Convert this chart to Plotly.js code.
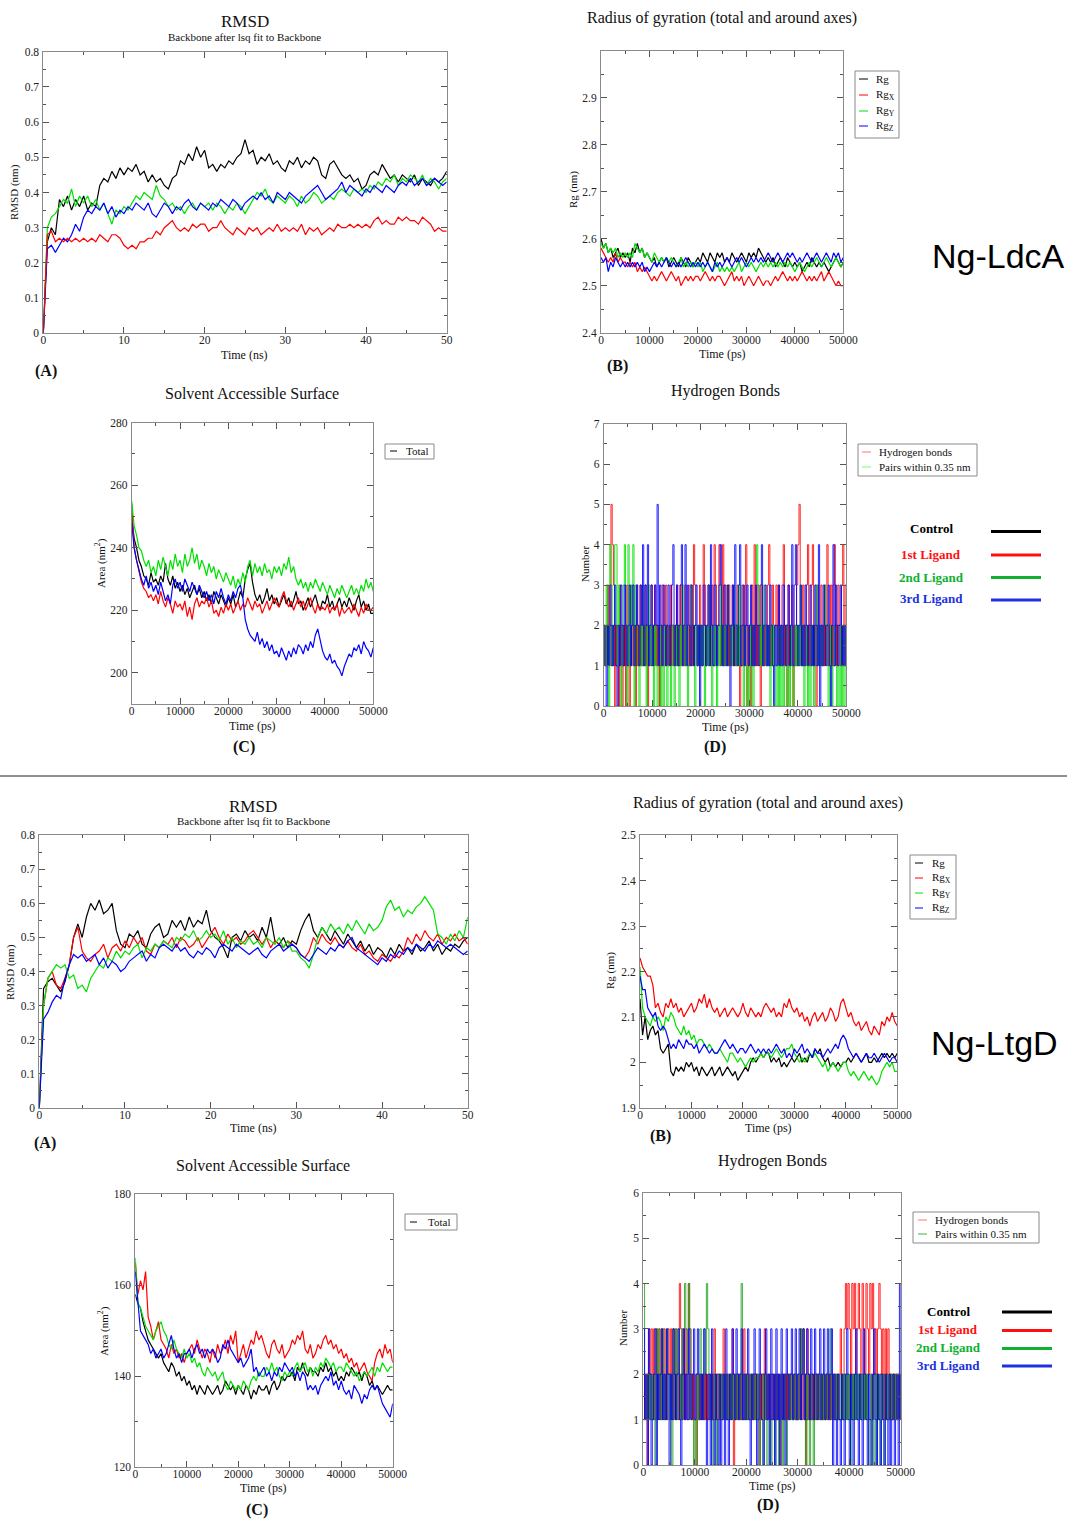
<!DOCTYPE html>
<html><head><meta charset="utf-8">
<script src="https://cdn.plot.ly/plotly-3.0.1.min.js"></script>
<style>body{margin:0;background:#fff}#chart{width:1067px;height:1520px}</style>
</head><body><div id="chart"></div>
<script>
// ---------- time axes ----------
const time_ns = [0,0.5,1,1.5,2,2.5,3,3.5,4,4.5,5,5.5,6,6.5,7,7.5,8,8.5,9,9.5,
10,10.5,11,11.5,12,12.5,13,13.5,14,14.5,15,15.5,16,16.5,17,17.5,18,18.5,19,19.5,
20,20.5,21,21.5,22,22.5,23,23.5,24,24.5,25,25.5,26,26.5,27,27.5,28,28.5,29,29.5,
30,30.5,31,31.5,32,32.5,33,33.5,34,34.5,35,35.5,36,36.5,37,37.5,38,38.5,39,39.5,
40,40.5,41,41.5,42,42.5,43,43.5,44,44.5,45,45.5,46,46.5,47,47.5,48,48.5,49,49.5,50];
const time_ps = [0,500,1000,1500,2000,2500,3000,3500,4000,4500,5000,5500,6000,6500,7000,7500,8000,8500,9000,9500,
10000,10500,11000,11500,12000,12500,13000,13500,14000,14500,15000,15500,16000,16500,17000,17500,18000,18500,19000,19500,
20000,20500,21000,21500,22000,22500,23000,23500,24000,24500,25000,25500,26000,26500,27000,27500,28000,28500,29000,29500,
30000,30500,31000,31500,32000,32500,33000,33500,34000,34500,35000,35500,36000,36500,37000,37500,38000,38500,39000,39500,
40000,40500,41000,41500,42000,42500,43000,43500,44000,44500,45000,45500,46000,46500,47000,47500,48000,48500,49000,49500,50000];
const time_hb = [0,250,500,750,1000,1250,1500,1750,2000,2250,2500,2750,3000,3250,3500,3750,4000,4250,4500,4750,
5000,5250,5500,5750,6000,6250,6500,6750,7000,7250,7500,7750,8000,8250,8500,8750,9000,9250,9500,9750,
10000,10250,10500,10750,11000,11250,11500,11750,12000,12250,12500,12750,13000,13250,13500,13750,14000,14250,14500,14750,
15000,15250,15500,15750,16000,16250,16500,16750,17000,17250,17500,17750,18000,18250,18500,18750,19000,19250,19500,19750,
20000,20250,20500,20750,21000,21250,21500,21750,22000,22250,22500,22750,23000,23250,23500,23750,24000,24250,24500,24750,
25000,25250,25500,25750,26000,26250,26500,26750,27000,27250,27500,27750,28000,28250,28500,28750,29000,29250,29500,29750,
30000,30250,30500,30750,31000,31250,31500,31750,32000,32250,32500,32750,33000,33250,33500,33750,34000,34250,34500,34750,
35000,35250,35500,35750,36000,36250,36500,36750,37000,37250,37500,37750,38000,38250,38500,38750,39000,39250,39500,39750,
40000,40250,40500,40750,41000,41250,41500,41750,42000,42250,42500,42750,43000,43250,43500,43750,44000,44250,44500,44750,
45000,45250,45500,45750,46000,46250,46500,46750,47000,47250,47500,47750,48000,48250,48500,48750,49000,49250,49500,49750,50000];

const series_names = ["Control","1st Ligand","2nd Ligand","3rd Ligand"];

// ---------- Ng-LdcA : RMSD (nm) ----------
const ldca_rmsd_control = [0.00,0.26,0.30,0.28,0.38,0.36,0.39,0.35,0.38,0.36,
0.39,0.35,0.37,0.36,0.42,0.44,0.43,0.46,0.44,0.47, 0.45,0.47,0.46,0.48,0.45,0.46,0.43,0.45,0.43,0.44,
0.42,0.41,0.44,0.45,0.49,0.48,0.51,0.49,0.53,0.50, 0.52,0.47,0.48,0.46,0.48,0.47,0.49,0.48,0.50,0.51,
0.55,0.51,0.52,0.48,0.50,0.49,0.51,0.48,0.49,0.47, 0.46,0.49,0.48,0.50,0.47,0.49,0.48,0.50,0.49,0.45,
0.44,0.48,0.49,0.47,0.45,0.44,0.45,0.43,0.44,0.41, 0.42,0.45,0.46,0.45,0.48,0.46,0.44,0.45,0.43,0.45,
0.44,0.43,0.45,0.42,0.44,0.43,0.42,0.44,0.43,0.44, 0.46];
const ldca_rmsd_lig1 = [0.00,0.28,0.29,0.26,0.27,0.26,0.27,0.26,0.27,0.26,
0.27,0.26,0.27,0.26,0.28,0.27,0.26,0.28,0.28,0.27, 0.25,0.24,0.25,0.24,0.26,0.26,0.27,0.27,0.29,0.28,
0.30,0.31,0.32,0.30,0.29,0.30,0.29,0.31,0.30,0.31, 0.31,0.29,0.30,0.30,0.32,0.30,0.29,0.28,0.30,0.29,
0.28,0.30,0.29,0.30,0.28,0.29,0.30,0.29,0.31,0.29, 0.30,0.29,0.30,0.29,0.31,0.28,0.30,0.29,0.30,0.28,
0.29,0.30,0.29,0.31,0.30,0.30,0.31,0.30,0.31,0.30, 0.31,0.30,0.32,0.33,0.31,0.32,0.31,0.31,0.33,0.32,
0.33,0.32,0.32,0.31,0.33,0.32,0.31,0.29,0.30,0.29, 0.29];
const ldca_rmsd_lig2 = [0.00,0.30,0.33,0.34,0.36,0.38,0.37,0.41,0.36,0.39,
0.37,0.39,0.36,0.38,0.35,0.37,0.34,0.31,0.35,0.34, 0.36,0.35,0.37,0.39,0.38,0.40,0.39,0.38,0.42,0.39,
0.38,0.36,0.37,0.35,0.36,0.34,0.36,0.37,0.35,0.37, 0.36,0.37,0.35,0.37,0.36,0.34,0.36,0.35,0.37,0.36,
0.34,0.36,0.38,0.40,0.39,0.41,0.38,0.37,0.39,0.38, 0.37,0.39,0.38,0.36,0.39,0.37,0.38,0.40,0.39,0.37,
0.38,0.39,0.38,0.40,0.41,0.40,0.39,0.41,0.40,0.41, 0.40,0.42,0.41,0.43,0.42,0.44,0.43,0.45,0.42,0.44,
0.43,0.45,0.44,0.43,0.45,0.42,0.44,0.43,0.41,0.43, 0.44];
const ldca_rmsd_lig3 = [0.00,0.24,0.25,0.23,0.25,0.27,0.26,0.28,0.31,0.29,
0.33,0.35,0.34,0.36,0.35,0.37,0.34,0.36,0.33,0.35, 0.34,0.36,0.35,0.37,0.36,0.35,0.37,0.34,0.33,0.35,
0.37,0.36,0.34,0.36,0.35,0.37,0.38,0.36,0.35,0.37, 0.36,0.35,0.37,0.36,0.38,0.37,0.36,0.38,0.37,0.35,
0.37,0.38,0.39,0.38,0.40,0.38,0.39,0.37,0.40,0.39, 0.38,0.40,0.39,0.38,0.37,0.39,0.40,0.41,0.42,0.40,
0.38,0.39,0.40,0.41,0.43,0.40,0.42,0.41,0.40,0.39, 0.41,0.40,0.42,0.41,0.40,0.42,0.41,0.40,0.42,0.43,
0.42,0.44,0.42,0.43,0.44,0.42,0.43,0.44,0.43,0.42, 0.43];

// ---------- Ng-LdcA : Rg (nm) ----------
const ldca_rg_control = [2.60,2.58,2.59,2.57,2.58,2.56,2.57,2.58,2.56,2.57,
2.56,2.57,2.55,2.58,2.57,2.59,2.57,2.58,2.56,2.57, 2.56,2.55,2.56,2.54,2.55,2.56,2.55,2.56,2.54,2.55,
2.56,2.55,2.54,2.56,2.55,2.54,2.56,2.55,2.54,2.55, 2.56,2.55,2.57,2.56,2.55,2.57,2.56,2.55,2.57,2.56,
2.57,2.55,2.56,2.55,2.57,2.56,2.55,2.56,2.57,2.56, 2.55,2.57,2.56,2.57,2.56,2.58,2.57,2.56,2.55,2.56,
2.55,2.56,2.54,2.55,2.56,2.55,2.54,2.56,2.55,2.54, 2.55,2.54,2.55,2.53,2.54,2.55,2.54,2.56,2.55,2.54,
2.55,2.54,2.55,2.54,2.53,2.54,2.55,2.56,2.55,2.54, 2.55];
const ldca_rg_x = [2.58,2.57,2.56,2.55,2.56,2.55,2.57,2.55,2.56,2.55,
2.55,2.54,2.55,2.54,2.55,2.53,2.54,2.53,2.54,2.53, 2.52,2.51,2.52,2.51,2.52,2.53,2.52,2.51,2.52,2.53,
2.52,2.51,2.52,2.50,2.51,2.52,2.51,2.52,2.51,2.52, 2.52,2.51,2.52,2.53,2.52,2.51,2.52,2.51,2.52,2.52,
2.51,2.50,2.51,2.52,2.53,2.51,2.52,2.51,2.52,2.50, 2.51,2.52,2.51,2.50,2.51,2.52,2.51,2.50,2.51,2.51,
2.50,2.51,2.52,2.51,2.52,2.53,2.52,2.51,2.52,2.51, 2.52,2.51,2.52,2.53,2.52,2.51,2.52,2.51,2.52,2.51,
2.52,2.53,2.51,2.52,2.53,2.52,2.51,2.50,2.51,2.50, 2.50];
const ldca_rg_y = [2.59,2.58,2.59,2.57,2.58,2.57,2.58,2.56,2.57,2.56,
2.57,2.56,2.57,2.56,2.59,2.58,2.57,2.58,2.56,2.57, 2.56,2.55,2.57,2.56,2.55,2.56,2.55,2.56,2.55,2.56,
2.55,2.54,2.55,2.56,2.54,2.55,2.54,2.55,2.54,2.55, 2.54,2.55,2.53,2.54,2.55,2.54,2.53,2.54,2.55,2.53,
2.54,2.53,2.54,2.53,2.54,2.53,2.54,2.55,2.53,2.54, 2.55,2.54,2.55,2.54,2.53,2.54,2.55,2.54,2.55,2.54,
2.55,2.54,2.55,2.54,2.55,2.54,2.55,2.54,2.55,2.54, 2.53,2.54,2.55,2.54,2.53,2.54,2.55,2.54,2.55,2.56,
2.55,2.54,2.55,2.56,2.55,2.54,2.55,2.56,2.55,2.54, 2.55];
const ldca_rg_z = [2.56,2.55,2.56,2.53,2.55,2.54,2.56,2.55,2.54,2.55,
2.54,2.55,2.54,2.55,2.54,2.55,2.54,2.55,2.53,2.54, 2.53,2.54,2.55,2.54,2.55,2.54,2.55,2.56,2.55,2.54,
2.55,2.54,2.55,2.54,2.55,2.56,2.55,2.54,2.55,2.54, 2.55,2.54,2.55,2.54,2.55,2.54,2.53,2.55,2.54,2.55,
2.54,2.55,2.56,2.55,2.54,2.55,2.56,2.55,2.56,2.55, 2.54,2.55,2.56,2.55,2.56,2.55,2.56,2.55,2.56,2.57,
2.56,2.55,2.56,2.57,2.56,2.55,2.56,2.57,2.56,2.57, 2.56,2.55,2.56,2.55,2.56,2.57,2.56,2.55,2.56,2.57,
2.56,2.55,2.56,2.57,2.56,2.55,2.57,2.56,2.57,2.55, 2.56];

// ---------- Ng-LdcA : SAS area (nm^2) ----------
const ldca_sas_control = [250,243,240,236,234,231,230,228,232,229,
230,228,231,229,235,230,228,231,227,229, 226,228,225,227,224,226,228,225,227,224,
226,223,225,222,226,224,222,225,223,221, 224,222,225,221,223,226,224,230,233,235,
229,225,223,225,222,224,227,223,225,222, 224,221,223,225,222,224,221,223,226,222,
223,220,222,224,221,223,225,222,220,223, 222,225,221,223,220,222,224,221,223,221,
224,222,220,223,225,221,223,220,222,219, 219];
const ldca_sas_lig1 = [254,240,236,232,229,227,226,224,225,223,
225,222,226,223,221,224,222,219,223,221, 222,220,223,218,221,217,222,224,221,223,
222,224,221,223,219,220,218,221,219,222, 220,222,219,221,223,220,222,221,224,222,
220,223,221,222,219,221,223,220,222,224, 222,221,224,226,223,221,223,220,222,224,
221,223,220,222,224,221,219,222,220,221, 220,222,219,221,220,222,218,221,219,220,
221,219,222,220,218,221,219,222,220,220, 221];
const ldca_sas_lig2 = [255,247,244,240,239,236,234,236,232,234,
231,236,233,237,234,231,236,233,238,234, 236,232,238,234,236,240,235,238,233,236,
234,231,235,232,234,230,233,231,229,232, 230,228,231,227,230,228,232,229,234,236,
231,235,232,234,231,235,232,233,230,234, 232,234,231,235,233,237,232,234,230,228,
230,227,229,226,229,227,230,228,226,229, 227,225,228,226,224,227,225,228,226,224,
226,228,225,227,225,228,226,230,227,229, 226];
const ldca_sas_lig3 = [248,240,236,233,230,228,231,227,229,226,
228,225,229,226,223,225,222,228,230,227, 229,226,230,228,226,229,227,225,228,226,
224,226,223,225,222,226,224,227,224,222, 225,223,226,224,227,228,224,217,214,212,
211,210,213,209,211,208,210,207,209,206, 207,205,208,206,204,207,205,208,206,209,
208,206,209,207,210,208,212,214,210,207, 205,204,206,203,204,202,201,199,202,204,
206,205,208,207,209,206,210,208,207,205, 208];

// ---------- Ng-LdcA : hydrogen bonds (count) ----------
const ldca_hb_control = [2,1,2,1,2,2,1,2,1,2,1,2,2,1,2,1,2,1,2,1,
1,2,1,2,2,1,2,1,2,1,2,1,1,2,1,2,1,2,2,1, 2,1,2,1,2,1,1,2,1,2,2,1,2,1,2,1,2,2,1,2,
1,2,1,2,1,2,2,1,2,1,1,2,1,2,1,2,2,1,2,1, 2,1,2,2,1,2,1,2,1,2,1,1,2,1,2,2,1,2,1,2,
1,2,1,2,1,2,2,1,2,1,2,1,2,1,1,2,1,2,2,1, 2,1,2,1,2,1,2,2,1,2,1,2,1,2,2,1,2,1,2,1,
1,2,2,1,2,1,2,1,2,1,2,2,1,2,1,2,1,1,2,1, 2,1,2,1,1,2,1,2,2,1,2,1,2,1,2,1,2,2,1,2,
1,2,1,2,2,1,2,1,2,1,1,2,1,2,2,1,2,1,2,1, 2];
const ldca_hb_lig1 = [2,1,2,3,1,2,5,4,3,0,2,1,0,3,2,0,1,2,0,3,
1,0,2,3,1,2,0,3,1,2,3,1,2,1,3,2,0,1,2,3, 2,1,3,2,1,2,0,1,3,2,1,3,2,1,2,3,1,2,1,2,
3,1,2,3,1,2,1,3,2,1,2,3,1,2,4,3,2,1,2,3, 1,2,4,3,1,2,3,2,1,3,2,4,3,1,2,4,3,2,4,1,
3,2,1,3,2,1,3,2,1,2,3,1,0,2,3,1,2,4,0,1, 2,0,3,1,4,2,1,3,2,0,3,2,1,2,1,3,4,1,2,3,
1,2,3,2,3,1,2,3,4,1,2,0,3,1,2,3,0,2,1,3, 4,5,2,1,3,2,1,3,4,2,1,3,4,2,1,0,3,2,1,3,
2,1,3,2,4,1,2,3,1,3,4,2,1,3,2,1,3,4,2,3, 3];
const ldca_hb_lig2 = [2,1,3,2,0,4,3,1,2,4,4,1,3,2,0,1,3,4,2,0,
4,1,3,2,4,0,3,2,1,0,2,1,3,2,1,0,2,3,1,2, 1,0,2,1,0,1,2,0,1,0,2,1,0,1,2,0,1,2,0,1,
2,1,0,2,1,3,2,1,2,0,1,2,3,2,1,0,2,1,2,1, 2,1,2,0,1,2,1,3,2,0,1,2,1,0,2,1,3,2,1,2,
1,2,3,2,1,2,1,3,2,1,2,1,3,2,1,0,2,1,0,1, 0,2,1,0,1,2,4,3,2,1,2,1,3,2,1,2,1,0,2,1,
2,1,0,1,0,2,0,1,0,1,2,0,1,0,2,1,0,1,2,1, 2,1,3,2,1,0,1,2,0,1,0,2,1,0,1,3,2,1,2,1,
1,2,3,2,1,0,2,1,0,1,2,1,0,1,0,2,0,1,0,1, 1];
const ldca_hb_lig3 = [2,1,0,2,1,3,2,1,2,3,1,0,2,1,3,2,1,3,2,1,
2,3,1,2,3,1,2,3,2,1,3,2,4,1,3,2,4,1,2,3, 1,2,3,2,5,1,3,2,1,3,2,1,2,3,1,2,3,4,1,2,
3,1,2,3,4,1,2,4,1,3,2,1,3,2,1,2,3,1,2,0, 2,1,3,2,1,2,3,1,4,2,1,3,2,1,2,3,4,2,1,3,
2,1,3,2,0,2,3,1,4,2,1,3,4,1,2,3,1,2,3,1, 2,3,1,2,1,3,2,1,2,3,4,1,2,3,1,2,1,3,2,1,
0,2,1,2,3,1,2,1,3,2,1,2,3,1,2,4,1,3,4,2, 1,2,3,1,2,1,3,2,1,2,3,1,2,1,3,2,1,4,0,2,
1,3,2,1,2,3,1,0,2,4,1,3,2,1,2,3,1,2,1,2, 2];

// ---------- Ng-LtgD : RMSD (nm) ----------
const ltgd_rmsd_control = [0.00,0.35,0.37,0.38,0.36,0.34,0.37,0.42,0.50,0.54,
0.50,0.56,0.60,0.58,0.61,0.57,0.58,0.60,0.52,0.48, 0.47,0.51,0.50,0.52,0.48,0.47,0.51,0.53,0.54,0.50,
0.51,0.55,0.53,0.55,0.52,0.56,0.53,0.55,0.54,0.58, 0.52,0.50,0.49,0.47,0.44,0.50,0.51,0.49,0.52,0.50,
0.51,0.49,0.53,0.50,0.56,0.49,0.48,0.50,0.47,0.49, 0.48,0.52,0.55,0.57,0.52,0.50,0.53,0.51,0.49,0.52,
0.50,0.48,0.51,0.49,0.47,0.49,0.46,0.48,0.45,0.47, 0.46,0.44,0.47,0.45,0.48,0.46,0.47,0.45,0.48,0.46,
0.47,0.49,0.46,0.48,0.45,0.47,0.46,0.48,0.47,0.49, 0.50];
const ltgd_rmsd_lig1 = [0.00,0.30,0.38,0.40,0.36,0.35,0.38,0.42,0.50,0.53,
0.46,0.44,0.43,0.45,0.46,0.48,0.44,0.47,0.48,0.46, 0.49,0.47,0.50,0.48,0.50,0.46,0.45,0.48,0.47,0.49,
0.48,0.50,0.47,0.50,0.49,0.47,0.48,0.50,0.47,0.49, 0.51,0.53,0.50,0.48,0.51,0.49,0.50,0.48,0.49,0.51,
0.52,0.50,0.48,0.50,0.47,0.49,0.48,0.47,0.49,0.48, 0.47,0.45,0.44,0.46,0.50,0.48,0.51,0.49,0.48,0.50,
0.48,0.47,0.49,0.47,0.46,0.48,0.45,0.46,0.44,0.43, 0.45,0.44,0.43,0.45,0.44,0.46,0.50,0.48,0.51,0.49,
0.52,0.50,0.49,0.51,0.48,0.50,0.49,0.51,0.49,0.50, 0.48];
const ltgd_rmsd_lig2 = [0.00,0.30,0.38,0.40,0.42,0.41,0.42,0.38,0.39,0.35,
0.36,0.34,0.38,0.40,0.42,0.41,0.44,0.43,0.46,0.44, 0.46,0.45,0.47,0.48,0.44,0.47,0.46,0.48,0.47,0.49,
0.48,0.47,0.50,0.49,0.51,0.50,0.52,0.49,0.50,0.52, 0.50,0.51,0.49,0.52,0.48,0.50,0.47,0.49,0.48,0.50,
0.48,0.49,0.47,0.50,0.49,0.48,0.50,0.47,0.49,0.46, 0.46,0.44,0.43,0.41,0.45,0.50,0.53,0.51,0.54,0.52,
0.53,0.51,0.54,0.52,0.55,0.53,0.51,0.54,0.52,0.53, 0.55,0.59,0.61,0.58,0.59,0.56,0.58,0.57,0.59,0.60,
0.62,0.60,0.58,0.51,0.50,0.48,0.51,0.49,0.52,0.50, 0.56];
const ltgd_rmsd_lig3 = [0.00,0.26,0.28,0.31,0.33,0.32,0.38,0.42,0.45,0.44,
0.45,0.43,0.44,0.45,0.42,0.44,0.41,0.43,0.42,0.40, 0.41,0.43,0.44,0.45,0.46,0.43,0.45,0.44,0.47,0.48,
0.47,0.46,0.48,0.46,0.47,0.45,0.44,0.46,0.45,0.47, 0.46,0.44,0.47,0.48,0.47,0.46,0.48,0.47,0.46,0.45,
0.46,0.47,0.45,0.44,0.46,0.47,0.48,0.46,0.47,0.48, 0.47,0.45,0.44,0.43,0.45,0.47,0.46,0.45,0.47,0.46,
0.48,0.47,0.49,0.50,0.47,0.46,0.45,0.44,0.43,0.42, 0.44,0.43,0.45,0.44,0.46,0.45,0.47,0.46,0.48,0.47,
0.46,0.48,0.47,0.49,0.48,0.47,0.48,0.47,0.46,0.45, 0.46];

// ---------- Ng-LtgD : Rg (nm) ----------
const ltgd_rg_control = [2.14,2.06,2.10,2.05,2.07,2.08,2.06,2.07,2.03,2.02,
2.03,2.04,1.98,1.97,1.99,1.98,1.99,1.98,2.00,1.99, 2.00,1.98,1.99,1.97,1.99,1.98,1.97,1.98,1.99,1.97,
1.98,1.99,1.97,1.98,1.99,1.98,1.97,1.98,1.96,1.97, 1.98,1.99,1.98,2.00,2.01,2.00,2.01,2.02,2.01,2.02,
2.02,2.00,2.01,2.00,2.01,1.99,2.00,1.99,2.00,2.01, 2.00,2.01,2.02,2.00,2.01,2.00,2.02,2.01,2.03,2.02,
2.03,2.01,2.00,2.01,1.99,2.00,1.99,2.00,1.99,2.00, 2.00,2.01,2.00,2.01,2.02,2.01,2.00,2.01,2.02,2.00,
2.00,2.01,2.00,2.01,2.02,2.01,2.02,2.01,2.02,2.01, 2.02];
const ltgd_rg_x = [2.23,2.21,2.20,2.19,2.19,2.17,2.12,2.13,2.11,2.10,
2.13,2.12,2.14,2.12,2.13,2.11,2.12,2.10,2.11,2.12, 2.13,2.11,2.12,2.14,2.13,2.15,2.12,2.14,2.12,2.11,
2.12,2.10,2.11,2.12,2.10,2.11,2.12,2.11,2.10,2.11, 2.13,2.11,2.10,2.12,2.11,2.10,2.11,2.10,2.12,2.13,
2.12,2.11,2.12,2.10,2.11,2.10,2.13,2.12,2.14,2.12, 2.11,2.12,2.10,2.11,2.09,2.10,2.08,2.10,2.11,2.09,
2.10,2.11,2.09,2.10,2.12,2.11,2.09,2.10,2.13,2.14, 2.12,2.10,2.11,2.09,2.08,2.09,2.07,2.08,2.09,2.07,
2.06,2.08,2.07,2.06,2.09,2.08,2.10,2.09,2.11,2.09, 2.08];
const ltgd_rg_y = [2.21,2.12,2.10,2.09,2.08,2.10,2.09,2.10,2.09,2.07,
2.10,2.09,2.11,2.10,2.08,2.07,2.06,2.08,2.06,2.07, 2.05,2.06,2.04,2.05,2.05,2.04,2.03,2.04,2.03,2.02,
2.02,2.03,2.02,2.01,2.00,2.02,2.02,2.01,2.00,2.01, 2.00,1.99,2.00,2.01,2.00,2.01,2.01,2.02,2.01,2.02,
2.02,2.01,2.02,2.03,2.02,2.01,2.02,2.03,2.03,2.04, 2.02,2.01,2.00,2.01,2.00,2.01,2.02,2.01,2.02,2.01,
2.00,1.99,2.00,1.98,1.99,2.00,1.99,1.98,1.99,2.00, 2.00,1.98,1.97,1.98,1.97,1.96,1.97,1.98,1.97,1.96,
1.97,1.96,1.95,1.96,1.98,1.99,2.00,1.99,2.00,1.98, 1.98];
const ltgd_rg_z = [2.19,2.16,2.16,2.12,2.11,2.10,2.11,2.08,2.07,2.08,
2.07,2.05,2.03,2.04,2.03,2.05,2.04,2.03,2.05,2.04, 2.04,2.03,2.04,2.02,2.03,2.04,2.03,2.02,2.03,2.02,
2.02,2.03,2.04,2.05,2.04,2.03,2.04,2.03,2.02,2.03, 2.03,2.02,2.03,2.04,2.03,2.02,2.03,2.02,2.03,2.02,
2.03,2.02,2.03,2.04,2.03,2.02,2.03,2.01,2.02,2.01, 2.03,2.02,2.03,2.04,2.02,2.03,2.02,2.01,2.03,2.02,
2.02,2.01,2.02,2.03,2.02,2.03,2.04,2.03,2.05,2.06, 2.05,2.03,2.02,2.01,2.02,2.01,2.00,2.01,2.02,2.01,
2.01,2.02,2.01,2.00,2.01,2.02,2.01,2.00,2.01,2.01, 2.00];

// ---------- Ng-LtgD : SAS area (nm^2) ----------
const ltgd_sas_control = [158,156,155,152,150,148,147,146,145,144,
145,143,142,141,143,142,140,141,139,140, 138,139,137,138,136,138,137,136,138,137,
136,137,138,136,137,139,138,137,138,136, 138,137,136,138,137,135,137,136,138,137,
137,138,136,138,139,137,138,140,139,140, 140,141,139,142,141,143,141,140,142,141,
141,140,142,141,143,141,142,140,141,139, 140,139,141,140,142,141,140,141,139,141,
140,138,139,137,138,137,136,137,138,137, 137];
const ltgd_sas_lig1 = [165,158,161,159,163,153,151,148,150,152,
148,147,146,144,147,145,146,144,145,143, 145,146,147,145,148,146,144,146,145,143,
146,144,147,145,146,148,145,149,147,150, 143,145,147,144,146,148,147,150,148,149,
147,145,144,147,148,146,145,147,144,145, 146,148,147,149,148,150,146,145,147,144,
145,147,146,148,149,147,148,146,147,145, 146,144,145,143,144,142,143,141,142,143,
141,140,139,143,145,146,144,147,145,146, 143];
const ltgd_sas_lig2 = [166,156,155,153,151,150,149,148,150,151,
152,150,149,147,146,148,146,145,144,146, 144,145,143,144,142,143,141,140,142,141,
140,141,139,140,141,138,137,139,138,137, 138,137,139,138,137,139,140,139,141,140,
140,142,141,143,141,142,140,139,141,140, 141,140,142,143,141,142,143,141,142,140,
142,141,143,142,144,143,142,143,141,142, 142,141,143,142,141,140,141,139,140,141,
140,141,142,140,142,141,143,142,141,142, 142];
const ltgd_sas_lig3 = [163,156,150,149,148,147,145,146,144,145,
146,144,145,147,149,146,144,145,143,145, 145,146,144,146,147,145,146,144,146,145,
146,145,143,144,147,146,148,146,145,144, 143,144,142,143,144,146,141,142,140,141,
142,140,141,139,141,140,142,141,143,142, 141,142,140,141,139,141,140,137,138,137,
138,136,138,139,140,139,141,138,139,137, 139,137,136,137,135,138,137,136,134,136,
135,137,138,137,138,136,134,133,132,131, 134];

// ---------- Ng-LtgD : hydrogen bonds (count) ----------
const ltgd_hb_control = [1,2,1,2,2,1,2,1,2,1,2,1,2,2,1,2,1,2,1,2,
2,1,2,1,2,1,2,2,1,2,1,2,1,2,1,1,2,1,2,1, 1,2,2,1,2,1,2,1,2,1,2,2,1,2,1,2,1,2,2,1,
2,1,2,1,1,2,1,2,1,2,2,1,2,1,2,1,2,1,1,2, 1,2,1,2,1,2,2,1,2,1,2,1,2,2,1,2,1,2,1,2,
2,1,1,2,1,2,1,2,2,1,2,1,2,1,2,2,1,2,1,1, 1,2,1,2,2,1,2,1,2,1,1,2,1,2,1,2,2,1,2,1,
2,1,2,1,2,1,2,2,1,2,1,2,1,1,2,1,2,1,2,2, 1,2,1,2,1,2,1,2,2,1,2,1,2,1,2,1,1,2,1,2,
2,1,2,1,2,2,1,2,1,2,1,2,2,1,2,1,2,1,2,1, 1];
const ltgd_hb_lig1 = [2,1,2,0,3,2,3,1,3,2,3,2,3,1,3,2,3,1,2,3,
2,3,1,3,2,3,2,1,4,3,2,3,1,3,2,4,3,2,1,2, 1,0,2,1,2,1,2,1,2,1,2,1,2,1,2,3,1,2,1,2,
1,2,3,1,2,1,2,1,2,3,0,2,1,2,1,2,1,2,3,1, 2,1,2,1,2,1,2,1,2,1,0,2,1,2,3,1,2,1,2,1,
2,1,2,1,2,1,0,2,1,2,1,2,1,2,1,2,1,2,1,2, 1,2,3,1,3,2,0,3,2,1,2,1,2,1,2,1,2,1,2,1,
2,1,2,1,2,1,2,1,2,1,2,1,2,3,1,2,3,4,3,4, 3,2,4,3,4,2,3,4,3,2,4,3,2,4,3,2,4,3,4,2,
3,2,3,4,3,2,3,1,3,2,3,1,2,1,2,1,2,1,2,1, 2];
const ltgd_hb_lig2 = [4,2,1,2,1,2,1,2,1,0,3,2,3,1,2,3,1,2,3,2,
1,2,0,3,2,3,1,3,2,1,3,2,4,3,2,4,3,2,1,0, 1,0,2,1,3,2,1,3,2,4,3,1,2,1,0,2,1,0,2,1,
2,1,2,1,2,1,2,1,2,1,2,1,2,1,2,1,4,2,1,2, 1,2,1,2,1,2,1,2,1,2,0,1,2,0,1,2,0,1,2,0,
1,2,0,1,2,0,1,2,0,1,2,0,1,2,1,2,1,2,1,2, 1,2,3,2,3,1,0,2,1,0,2,1,0,1,2,1,2,1,2,1,
2,1,2,1,2,3,1,2,1,2,1,2,1,2,1,2,1,2,1,2, 1,0,2,1,2,1,2,1,2,1,2,1,2,1,2,1,0,2,1,0,
2,0,1,2,0,1,2,0,1,2,1,2,1,2,1,2,1,2,1,2, 1];
const ltgd_hb_lig3 = [3,1,2,0,3,2,0,1,2,3,0,2,1,2,3,1,2,1,3,2,
0,2,1,3,2,1,2,3,1,0,2,3,1,2,1,3,2,1,2,3, 1,2,3,2,1,2,1,3,2,0,1,2,0,3,1,0,2,1,0,2,
0,1,2,0,3,1,0,2,1,3,2,1,3,2,1,2,3,1,2,1, 2,3,1,0,2,1,3,2,0,1,3,2,1,0,2,3,1,2,0,3,
1,2,0,3,1,2,0,3,1,2,0,3,2,1,2,3,1,2,3,1, 2,3,1,2,3,1,2,3,2,1,3,2,1,3,2,1,2,3,1,2,
3,1,2,3,1,2,3,0,2,1,0,2,1,0,2,1,0,2,3,1, 0,2,1,0,2,3,1,0,2,1,0,3,2,1,0,2,1,0,2,3,
1,0,2,1,0,2,1,0,2,1,0,2,0,1,2,0,1,2,0,4, 1];

// ---------- axis ranges ----------
const x_ns_range = [0,50], x_ps_range = [0,50000];

// ====================== layout helpers ======================
const W = 1067, H = 1520;
const PX = x => x / W, PY = y => 1 - y / H;
const SERIF = 'Liberation Serif, Times New Roman, serif';
const layout = {
  width: W, height: H, margin: {l:0, r:0, t:0, b:0},
  paper_bgcolor: '#fff', plot_bgcolor: '#fff', showlegend: false,
  annotations: [], shapes: []
};
function axis(dom, range, dtick, minor, tick0, fmt, isX) {
  return {
    domain: dom, range: range, dtick: dtick, tick0: tick0, tickmode: 'linear',
    ticks: 'inside', ticklen: 6, tickwidth: 1, tickcolor: '#555',
    showline: true, linecolor: '#8a8a8a', linewidth: 1, mirror: 'ticks',
    showgrid: false, zeroline: false, fixedrange: true,
    tickfont: {family: SERIF, size: 11.5, color: '#222'},
    tickformat: fmt || '', ticklabelstandoff: isX ? -4 : 1,
    minor: {dtick: minor, tick0: tick0, ticks: 'inside', ticklen: 3, tickcolor: '#555', showgrid: false}
  };
}
const panels = [
  {L:43.3, R:446.7, T:51.7, B:333.3, xr:x_ns_range, xd:10, xm:5, yr:[0,0.8], yd:0.1, ym:0.05, y0:0},
  {L:601, R:843.3, T:51, B:332.7, xr:x_ps_range, xd:10000, xm:5000, yr:[2.4,2.9995], yd:0.1, ym:0.05, y0:2.4},
  {L:131.7, R:373.3, T:422.7, B:704, xr:x_ps_range, xd:10000, xm:5000, yr:[190,280], yd:20, ym:10, y0:200},
  {L:603.7, R:846.3, T:423.7, B:706, xr:x_ps_range, xd:10000, xm:5000, yr:[0,7], yd:1, ym:0.5, y0:0},
  {L:39.3, R:467.7, T:835.3, B:1107.7, xr:x_ns_range, xd:10, xm:5, yr:[0,0.8], yd:0.1, ym:0.05, y0:0},
  {L:640, R:897.3, T:835.3, B:1107.7, xr:x_ps_range, xd:10000, xm:5000, yr:[1.9,2.5], yd:0.1, ym:0.05, y0:1.9},
  {L:135.3, R:392.7, T:1194.3, B:1467.3, xr:x_ps_range, xd:10000, xm:5000, yr:[120,180], yd:20, ym:10, y0:120},
  {L:643.3, R:900.7, T:1192.7, B:1465, xr:x_ps_range, xd:10000, xm:5000, yr:[0,6], yd:1, ym:0.5, y0:0}
];
panels.forEach((p, i) => {
  const n = i === 0 ? '' : String(i + 1);
  const xa = axis([PX(p.L), PX(p.R)], p.xr, p.xd, p.xm, 0, 'd', true);
  const ya = axis([PY(p.B), PY(p.T)], p.yr, p.yd, p.ym, p.y0, '', false);
  xa.anchor = 'y' + n; ya.anchor = 'x' + n;
  layout['xaxis' + n] = xa; layout['yaxis' + n] = ya;
});

// ====================== traces ======================
const COL = ['#000000', '#ff0000', '#00e000', '#0000ff'];
const traces = [];
function addLines(panelIdx, xs, ys, cols, shape, width, opac) {
  const n = panelIdx === 0 ? '' : String(panelIdx + 1);
  ys.forEach((y, k) => traces.push({
    type: 'scatter', mode: 'lines', x: xs, y: y, name: series_names[k],
    xaxis: 'x' + n, yaxis: 'y' + n, hoverinfo: 'skip', opacity: opac || 1,
    line: {color: cols[k], width: width || 1, shape: shape || 'linear'}
  }));
}
addLines(0, time_ns, [ldca_rmsd_control, ldca_rmsd_lig2, ldca_rmsd_lig3, ldca_rmsd_lig1],
  [COL[0], COL[2], COL[3], COL[1]], 'linear', 1.2);
addLines(1, time_ps, [ldca_rg_control, ldca_rg_x, ldca_rg_y, ldca_rg_z], COL, 'linear', 1.2);
addLines(2, time_ps, [ldca_sas_control, ldca_sas_lig1, ldca_sas_lig2, ldca_sas_lig3], COL, 'linear', 1.2);
addLines(3, time_hb, [ldca_hb_control, ldca_hb_lig1, ldca_hb_lig2, ldca_hb_lig3], COL, 'hv', 1, 0.85);
addLines(4, time_ns, [ltgd_rmsd_control, ltgd_rmsd_lig1, ltgd_rmsd_lig2, ltgd_rmsd_lig3], COL, 'linear', 1.2);
addLines(5, time_ps, [ltgd_rg_control, ltgd_rg_x, ltgd_rg_y, ltgd_rg_z], COL, 'linear', 1.2);
addLines(6, time_ps, [ltgd_sas_control, ltgd_sas_lig1, ltgd_sas_lig2, ltgd_sas_lig3], COL, 'linear', 1.2);
addLines(7, time_hb, [ltgd_hb_control, ltgd_hb_lig1, ltgd_hb_lig2, ltgd_hb_lig3],
  ['#000000', '#ff0000', '#20a020', '#0000ff'], 'hv', 1, 0.85);

// ====================== text & decorations ======================
function T(text, x, y, size, opts) {
  opts = opts || {};
  layout.annotations.push({
    text: text, x: PX(x), y: PY(y), xref: 'paper', yref: 'paper', showarrow: false,
    xanchor: opts.xa || 'center', yanchor: 'middle', textangle: opts.rot || 0,
    font: {family: opts.family || SERIF, size: size, color: opts.color || '#111', weight: opts.weight || 'normal'}
  });
}
function S(x0, y0, x1, y1, color, width, type, fill) {
  layout.shapes.push({
    type: type || 'line', xref: 'paper', yref: 'paper',
    x0: PX(x0), y0: PY(y0), x1: PX(x1), y1: PY(y1),
    line: {color: color, width: width}, fillcolor: fill || 'rgba(0,0,0,0)'
  });
}
// titles
T('RMSD', 245, 22, 17); T('Backbone after lsq fit to Backbone', 245, 37, 11);
T('Radius of gyration (total and around axes)', 722, 18, 16);
T('Solvent Accessible Surface', 252, 393, 16);
T('Hydrogen Bonds', 725, 391, 16);
T('RMSD', 253, 806, 17); T('Backbone after lsq fit to Backbone', 253, 821, 11);
T('Radius of gyration (total and around axes)', 768, 803, 16);
T('Solvent Accessible Surface', 263, 1165, 16);
T('Hydrogen Bonds', 772, 1161, 16);
// axis titles
T('Time (ns)', 245, 355, 12); T('RMSD (nm)', 15, 192, 11, {rot: -90});
T('Time (ps)', 722, 354, 12); T('Rg (nm)', 573, 190, 11, {rot: -90});
T('Time (ps)', 252, 726, 12); T('Area (nm<sup>2</sup>)', 101, 563, 11, {rot: -90});
T('Time (ps)', 725, 727, 12); T('Number', 585, 564, 11, {rot: -90});
T('Time (ns)', 253, 1128, 12); T('RMSD (nm)', 10, 972, 11, {rot: -90});
T('Time (ps)', 768, 1128, 12); T('Rg (nm)', 610, 971, 11, {rot: -90});
T('Time (ps)', 263, 1488, 12); T('Area (nm<sup>2</sup>)', 103, 1331, 11, {rot: -90});
T('Time (ps)', 772, 1486, 12); T('Number', 623, 1328, 11, {rot: -90});
// panel letters
[['(A)',46,371],['(B)',617,366],['(C)',244,747],['(D)',715,747],
 ['(A)',45,1143],['(B)',660,1136],['(C)',257,1510],['(D)',768,1505]]
  .forEach(a => T(a[0], a[1], a[2], 16, {weight: 'bold'}));
// protein labels
T('Ng-LdcA', 998, 256, 34, {family: 'Liberation Sans, Arial, sans-serif', color: '#000'});
T('Ng-LtgD', 994, 1043, 34, {family: 'Liberation Sans, Arial, sans-serif', color: '#000'});
// separator
S(0, 776, W, 776, '#222', 1);

// Rg legend boxes
function rgLegend(bx0, by0, bx1, by1, lx0, lx1, tx, ys) {
  S(bx0, by0, bx1, by1, '#8a8a8a', 1, 'rect', '#fff');
  const labels = ['Rg', 'Rg<sub>X</sub>', 'Rg<sub>Y</sub>', 'Rg<sub>Z</sub>'];
  labels.forEach((lab, k) => {
    S(lx0, ys[k], lx1, ys[k], COL[k], 1);
    T(lab, tx, ys[k], 11, {xa: 'left'});
  });
}
rgLegend(855, 71, 899, 138, 859, 868, 874, [79, 95, 111, 126]);
rgLegend(910, 855, 956, 919, 915, 923, 930, [863, 878, 893, 908]);
// SAS legend boxes
S(385, 444, 434, 459, '#8a8a8a', 1, 'rect', '#fff'); S(390, 451, 397, 451, '#000', 1); T('Total', 404, 451, 11, {xa: 'left'});
S(405, 1214, 457, 1230, '#8a8a8a', 1, 'rect', '#fff'); S(410, 1222, 417, 1222, '#000', 1); T('Total', 426, 1222, 11, {xa: 'left'});
// HB legend boxes
function hbLegend(bx0, by0, bx1, by1, lx0, lx1, tx, y1, y2, gcol) {
  S(bx0, by0, bx1, by1, '#8a8a8a', 1, 'rect', '#fff');
  S(lx0, y1, lx1, y1, '#ff7070', 1); T('Hydrogen bonds', tx, y1, 11, {xa: 'left'});
  S(lx0, y2, lx1, y2, gcol, 1); T('Pairs within 0.35 nm', tx, y2, 11, {xa: 'left'});
}
hbLegend(858, 444, 977, 476, 862, 871, 877, 452, 467, '#70ff70');
hbLegend(913, 1212, 1039, 1243, 918, 927, 933, 1220, 1234, '#40b040');
// Control / ligand keys
const keyCols = ['#000000', '#ff1010', '#10b030', '#2030e0'];
function key(tx, ys, lx0, lx1, lys) {
  series_names.forEach((nm, k) => {
    T(nm, tx, ys[k], 13, {weight: 'bold', color: keyCols[k]});
    S(lx0, lys[k], lx1, lys[k], keyCols[k], 3);
  });
}
key(931, [529, 554, 577, 599], 991, 1041, [531.5, 555, 577.5, 600]);
key(948, [1311, 1329, 1347, 1365], 1002, 1052, [1312, 1330.5, 1348.5, 1366]);

Plotly.newPlot('chart', traces, layout, {staticPlot: true, displayModeBar: false});
</script>
</body></html>
